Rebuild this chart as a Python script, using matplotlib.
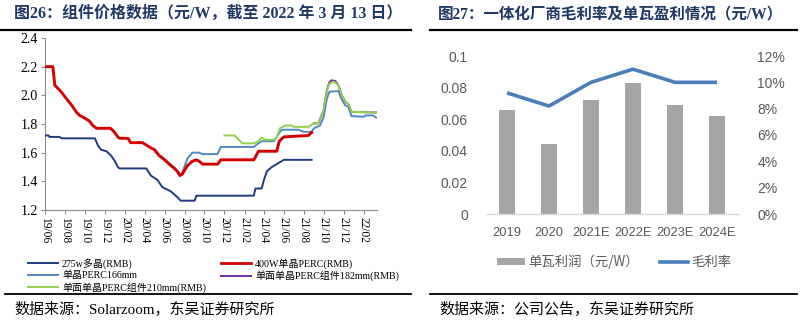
import matplotlib
matplotlib.use('Agg')
import matplotlib.pyplot as plt
import pandas as pd
from matplotlib.lines import Line2D
from matplotlib.patches import Patch

CJK = 'Noto Sans CJK SC'
SERIF = ['Liberation Serif', CJK]
SANS = ['Liberation Sans', CJK]
plt.rcParams['font.family'] = SANS

# ---------------- data: figure 26 (module prices, RMB/W) ----------------
poly_dates = ['2019-06-01', '2019-06-12', '2019-06-15', '2019-07-15', '2019-07-22', '2019-11-01',
              '2019-11-10', '2019-11-20', '2019-12-06', '2019-12-20', '2020-01-01', '2020-01-10',
              '2020-01-15', '2020-04-06', '2020-04-20', '2020-05-10', '2020-05-25', '2020-06-20',
              '2020-07-10', '2020-07-20', '2020-09-01', '2020-09-06', '2021-03-01', '2021-03-06',
              '2021-03-25', '2021-04-01', '2021-04-10', '2021-04-25', '2021-05-10', '2021-06-01',
              '2021-08-25']
poly_vals = [1.72, 1.72, 1.71, 1.71, 1.70, 1.70, 1.65, 1.62, 1.61, 1.58, 1.54, 1.50, 1.49, 1.49,
             1.44, 1.41, 1.36, 1.33, 1.29, 1.265, 1.265, 1.30, 1.30, 1.35, 1.35, 1.41, 1.47, 1.50,
             1.52, 1.55, 1.55]

perc400_dates = ['2019-06-01', '2019-06-25', '2019-07-01', '2019-07-10', '2019-07-22', '2019-08-01',
                 '2019-08-15', '2019-08-25', '2019-09-06', '2019-09-15', '2019-10-01', '2019-10-15',
                 '2019-10-25', '2019-11-06', '2019-12-18', '2019-12-28', '2020-01-10', '2020-01-15',
                 '2020-02-10', '2020-02-18', '2020-03-25', '2020-04-01', '2020-04-15', '2020-05-01',
                 '2020-05-15', '2020-06-01', '2020-06-15', '2020-07-01', '2020-07-10', '2020-07-18',
                 '2020-07-25', '2020-08-10', '2020-08-25', '2020-09-06', '2020-09-15', '2020-09-25',
                 '2020-11-10', '2020-11-20', '2021-03-01', '2021-03-06', '2021-03-15', '2021-05-10',
                 '2021-05-18', '2021-06-01', '2021-08-15', '2021-08-25']
perc400_vals = [2.20, 2.20, 2.07, 2.05, 2.02, 1.99, 1.95, 1.92, 1.88, 1.86, 1.84, 1.82, 1.79, 1.77,
                1.77, 1.75, 1.71, 1.70, 1.70, 1.67, 1.67, 1.66, 1.64, 1.62, 1.58, 1.55, 1.52, 1.49,
                1.47, 1.44, 1.45, 1.51, 1.54, 1.55, 1.54, 1.52, 1.52, 1.55, 1.55, 1.57, 1.61, 1.61,
                1.68, 1.71, 1.72, 1.74]

m166_dates = ['2020-05-01', '2020-05-15', '2020-06-01', '2020-06-15', '2020-07-01', '2020-07-10',
              '2020-07-18', '2020-07-25', '2020-08-10', '2020-08-25', '2020-09-15', '2020-09-25',
              '2020-11-10', '2020-11-20', '2021-03-01', '2021-03-15', '2021-03-25', '2021-05-01',
              '2021-05-25', '2021-07-15', '2021-08-01', '2021-08-25', '2021-09-01', '2021-09-20',
              '2021-10-01', '2021-10-10', '2021-10-18', '2021-11-15', '2021-11-25', '2021-12-06',
              '2021-12-15', '2021-12-25', '2022-02-01', '2022-02-06', '2022-03-01', '2022-03-10']
m166_vals = [1.625, 1.585, 1.555, 1.525, 1.495, 1.47, 1.445, 1.46, 1.56, 1.60, 1.60, 1.59, 1.59,
             1.64, 1.64, 1.665, 1.68, 1.68, 1.76, 1.76, 1.745, 1.745, 1.77, 1.79, 1.85, 1.97, 2.025,
             2.03, 1.97, 1.93, 1.92, 1.855, 1.85, 1.86, 1.86, 1.845]

m182_dates = ['2021-09-01', '2021-09-15', '2021-10-01', '2021-10-10', '2021-10-18', '2021-10-25',
              '2021-11-05', '2021-11-15', '2021-11-25', '2021-12-06', '2021-12-15', '2021-12-25',
              '2022-03-10']
m182_vals = [1.805, 1.805, 1.90, 2.03, 2.09, 2.105, 2.10, 2.07, 2.00, 1.955, 1.94, 1.885, 1.88]

m210_dates = ['2020-12-01', '2021-01-01', '2021-01-25', '2021-03-01', '2021-03-15', '2021-03-25',
              '2021-04-06', '2021-05-01', '2021-05-10', '2021-05-20', '2021-06-06', '2021-06-25',
              '2021-07-01', '2021-08-15', '2021-09-01', '2021-09-15', '2021-10-01', '2021-10-10',
              '2021-10-18', '2021-11-01', '2021-11-15', '2021-11-25', '2021-12-06', '2021-12-15',
              '2021-12-25', '2022-03-10']
m210_vals = [1.72, 1.72, 1.665, 1.665, 1.68, 1.705, 1.69, 1.69, 1.705, 1.77, 1.79, 1.79, 1.78,
             1.78, 1.805, 1.805, 1.90, 2.025, 2.08, 2.095, 2.07, 2.00, 1.955, 1.94, 1.885, 1.88]

series_labels = ['275w多晶(RMB)', '400W单晶PERC(RMB)', '单晶PERC166mm',
                 '单面单晶PERC组件182mm(RMB)', '单面单晶PERC组件210mm(RMB)']

# ---------------- data: figure 27 ----------------
years = ['2019', '2020', '2021E', '2022E', '2023E', '2024E']
unit_profit = [0.066, 0.044, 0.072, 0.083, 0.069, 0.062]
gross_margin = [9.2, 8.2, 10.0, 11.0, 10.0, 10.0]

# ---------------- figure ----------------
W, H = 800, 321
fig = plt.figure(figsize=(W / 100, H / 100), dpi=100)

def fx(px):
    return px / W

def fy(py):
    return 1 - py / H

title_color = '#1F3864'
fig.text(fx(14), fy(14), '图26：组件价格数据（元/W，截至 2022 年 3 月 13 日）', fontsize=11.5,
         fontweight='bold', color=title_color, va='center', ha='left', family=SERIF)
fig.text(fx(438), fy(14), '图27：一体化厂商毛利率及单瓦盈利情况（元/W）', fontsize=11.2,
         fontweight='bold', color=title_color, va='center', ha='left', family=SERIF)

for (x0, x1) in [(0, 411), (430, 797)]:
    fig.add_artist(Line2D([fx(x0), fx(x1)], [fy(29.5), fy(29.5)], color='black', lw=1.6))
    fig.add_artist(Line2D([fx(max(x0, 5)), fx(x1)], [fy(293.5), fy(293.5)], color='black', lw=1.3))

fig.text(fx(14), fy(309), '数据来源：Solarzoom，东吴证券研究所', fontsize=10.8, color='black',
         va='center', ha='left', family=SERIF)
fig.text(fx(439), fy(309), '数据来源：公司公告，东吴证券研究所', fontsize=10.8, color='black',
         va='center', ha='left', family=SERIF)

# ---------------- left chart ----------------
axl = fig.add_axes([fx(45), fy(210), fx(377) - fx(45), fy(38) - fy(210)])
c_poly, c_400, c_166, c_182, c_210 = '#1F3A80', '#D40000', '#5287C9', '#7030A0', '#92D050'
axl.plot(pd.to_datetime(poly_dates), poly_vals, color=c_poly, lw=1.4, zorder=3)
axl.plot(pd.to_datetime(m166_dates), m166_vals, color=c_166, lw=1.4, zorder=2)
axl.plot(pd.to_datetime(perc400_dates), perc400_vals, color=c_400, lw=2.1, zorder=4)
axl.plot(pd.to_datetime(m182_dates), m182_vals, color=c_182, lw=1.4, zorder=2)
axl.plot(pd.to_datetime(m210_dates), m210_vals, color=c_210, lw=1.4, zorder=3)

axl.set_ylim(1.2, 2.4)
axl.set_yticks([1.2, 1.4, 1.6, 1.8, 2.0, 2.2, 2.4])
axl.set_yticklabels(['1.2', '1.4', '1.6', '1.8', '2.0', '2.2', '2.4'], family=SERIF, fontsize=10)
axl.set_xlim(pd.Timestamp('2019-06-01'), pd.Timestamp('2022-03-13'))
xt = pd.date_range('2019-06-01', '2022-02-01', freq='2MS')
axl.set_xticks(xt)
axl.set_xticklabels([d.strftime('%y/%m') for d in xt], rotation=-90, family=SERIF, fontsize=8.3)
for s in ['top', 'right']:
    axl.spines[s].set_visible(False)
for s in ['left', 'bottom']:
    axl.spines[s].set_color('#8C8C8C')
    axl.spines[s].set_linewidth(0.8)
axl.tick_params(axis='both', color='#8C8C8C', length=3, width=0.8, pad=2)

h = [Line2D([], [], color=c, lw=2 if c == c_400 else 1.4) for c in [c_poly, c_400, c_166, c_182, c_210]]
leg_kw = dict(loc='upper left', frameon=False, prop={'family': SERIF, 'size': 7.2}, handlelength=3.0,
              labelspacing=0.2, handletextpad=0.4, borderpad=0, borderaxespad=0)
fig.legend([h[0], h[2], h[4]], [series_labels[0], series_labels[2], series_labels[4]],
           bbox_to_anchor=(fx(28), fy(258)), **leg_kw)
fig.legend([h[1], h[3]], [series_labels[1], series_labels[3]],
           bbox_to_anchor=(fx(221), fy(258)), **leg_kw)

# ---------------- right chart ----------------
axr = fig.add_axes([fx(486), fy(214), fx(738) - fx(486), fy(56) - fy(214)])
x = range(len(years))
axr.bar(x, unit_profit, width=0.4, color='#A5A5A5', zorder=2)
axr.set_xlim(-0.5, len(years) - 0.5)
axr.set_ylim(0, 0.1)
axr.set_yticks([0, 0.02, 0.04, 0.06, 0.08, 0.1])
axr.set_yticklabels(['0', '0.02', '0.04', '0.06', '0.08', '0.1'])
axr.set_xticks(list(x))
axr.set_xticklabels(years)
ax2 = axr.twinx()
ax2.plot(list(x), gross_margin, color='#4A7EBB', lw=2.6, solid_capstyle='butt')
ax2.set_ylim(0, 12)
ax2.set_yticks([0, 2, 4, 6, 8, 10, 12])
ax2.set_yticklabels([f'{v}%' for v in [0, 2, 4, 6, 8, 10, 12]])
for a in (axr, ax2):
    for s in ['top', 'right', 'left', 'bottom']:
        a.spines[s].set_visible(False)
    a.tick_params(axis='both', length=0, labelsize=10, labelcolor='#595959', pad=9)
axr.tick_params(axis='x', labelsize=9.3)
axr.spines['bottom'].set_visible(True)
axr.spines['bottom'].set_color('#D9D9D9')
axr.spines['bottom'].set_linewidth(1)
axr.tick_params(axis='y', pad=13)
ax2.tick_params(axis='y', pad=14)

rh = [Patch(facecolor='#A5A5A5', edgecolor='none'), Line2D([], [], color='#4A7EBB', lw=2.6)]
fig.legend(rh, ['单瓦利润（元/W）', '毛利率'], loc='center left', bbox_to_anchor=(fx(497), fy(262)),
           ncol=2, frameon=False, prop={'family': [CJK], 'size': 9.6}, labelcolor='#595959',
           handlelength=2.1, handleheight=0.5, handletextpad=0.25, columnspacing=1.6,
           borderpad=0, borderaxespad=0)

fig.savefig('out.png', dpi=100)
